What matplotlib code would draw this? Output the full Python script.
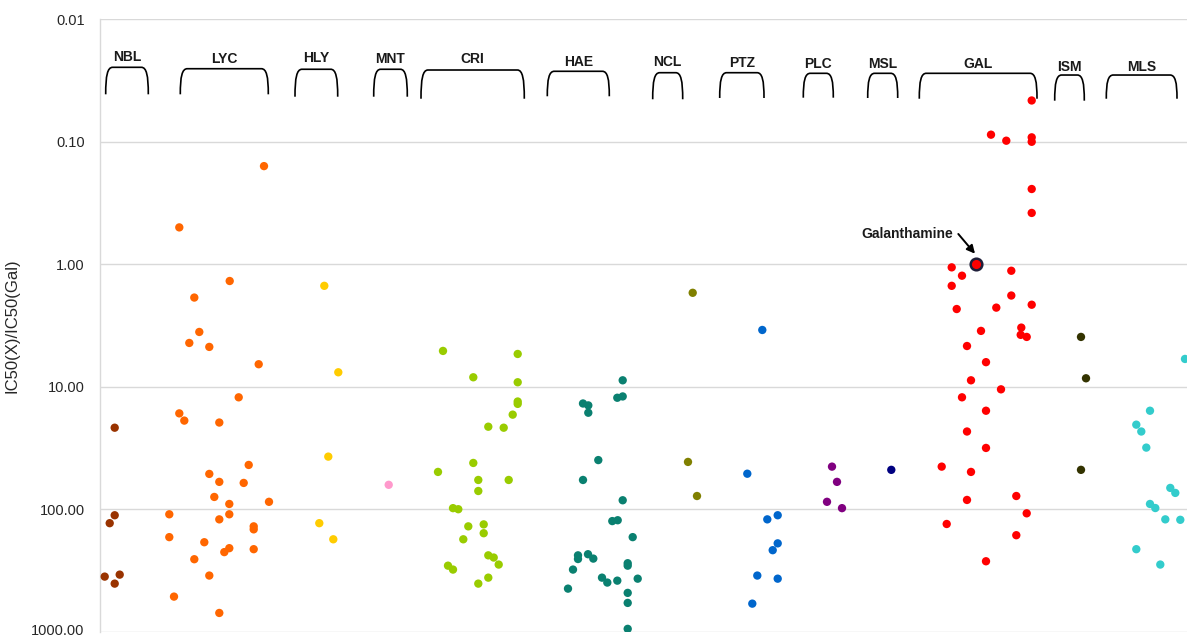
import matplotlib
matplotlib.use("Agg")
import matplotlib.pyplot as plt
from matplotlib.path import Path
from matplotlib.patches import PathPatch
from matplotlib.ticker import FixedLocator, FixedFormatter, NullLocator
from matplotlib.transforms import ScaledTranslation

plt.rcParams['font.family'] = ['Liberation Sans', 'DejaVu Sans']

# ---- data: horizontal position within the strip, and IC50(X)/IC50(Gal) ----
nbl_x = [14.7, 14.7, 9.7, 4.7, 19.7, 14.7]
nbl_y = [21.6, 112, 130, 355, 342, 405]

lyc_x = [164, 79.3, 129.7, 94.3, 99.3, 89.3, 109.3, 158.7, 138.7, 79.3, 84.3,
         119.3, 148.7, 109.3, 119.3, 143.7, 114.3, 129.3, 169, 69.3, 129.3,
         119.3, 153.7, 153.7, 69.3, 104.3, 129.3, 124.3, 153.7, 94.3, 109.3,
         74, 119.3]
lyc_y = [0.158, 0.50, 1.37, 1.87, 3.57, 4.39, 4.73, 6.55, 12.2, 16.5, 18.9,
         19.6, 43.5, 51.5, 59.8, 61, 79.4, 90.6, 87, 110, 110,
         121, 138, 146, 169, 186, 208, 224, 212, 256, 348,
         517, 703]

hly_x = [224.3, 238.3, 228.3, 219.3, 233.3]
hly_y = [1.50, 7.62, 37.2, 130, 176]

mnt_x = [288.7]
mnt_y = [63.2]

cri_x = [343, 417.7, 373.3, 417.7, 417.7, 417.7, 412.7, 388.3, 403.7, 373.3,
         338, 378.3, 408.7, 378.3, 353, 358.3, 368.3, 383.7, 383.7, 363.3,
         388.3, 393.7, 398.7, 348, 353, 388.3, 378.3]
cri_y = [5.1, 5.4, 8.37, 9.19, 13.2, 13.8, 16.9, 21.2, 21.6, 41.9,
         49.6, 57.7, 57.7, 71, 98, 100, 138, 133, 157, 176,
         238, 248, 283, 289, 311, 362, 405]

hae_x = [522.7, 517.3, 522.7, 483, 488.3, 488.3, 498.3, 483, 522.7, 512.3,
         517.7, 532.7, 478, 478, 488, 493.3, 527.7, 527.7, 473, 502,
         537.7, 517.3, 507.3, 468, 527.7, 527.7, 527.7]
hae_y = [8.86, 12.3, 12.0, 13.7, 14.2, 16.3, 39.7, 57.7, 84.5, 125,
         123, 169, 238, 255, 233, 253, 276, 289, 311, 362,
         369, 383, 397, 445, 482, 582, 948]

ncl_x = [592.7, 588, 597]
ncl_y = [1.71, 41.1, 78]

ptz_x = [662.3, 647.3, 667.3, 677.7, 677.7, 672.7, 657.3, 677.7, 652.3]
ptz_y = [3.44, 51.3, 121, 112, 190, 216, 348, 369, 590]

plc_x = [732, 737, 727, 742]
plc_y = [44.9, 59.8, 87, 98]

msl_x = [791.3]
msl_y = [47.7]

gal_x = [931.7, 891, 906.3, 931.7, 931.7, 931.7, 931.7,
         851.7, 862, 851.7, 911.3, 911.3, 856.7, 896.3, 931.7,
         881, 921.3, 920.7, 926.7, 867, 886, 871, 901, 862, 886, 867, 886,
         841.7, 871, 867, 916.3, 926.7, 846.7, 916.3, 886]
gal_y = [0.046, 0.0875, 0.098, 0.092, 0.100, 0.243, 0.381,
         1.06, 1.24, 1.50, 1.13, 1.80, 2.32, 2.26, 2.14,
         3.5, 3.29, 3.77, 3.92, 4.65, 6.3, 8.86, 10.5, 12.2, 15.7, 23.2, 31.6,
         44.9, 49.6, 84, 78, 108, 132, 163, 266]

ism_x = [981, 986, 981]
ism_y = [3.92, 8.53, 47.7]

mls_x = [1085, 1050, 1036.3, 1041.3, 1046.3, 1070.3, 1075.3, 1050, 1055.3,
         1065.3, 1080.3, 1036.3, 1060.3]
mls_y = [5.93, 15.7, 20.4, 23.2, 31.4, 67, 73.6, 90.6, 97.8,
         121, 122, 212, 283]

galanthamine_x = 876
galanthamine_y = 1.00

group_names = ['NBL', 'LYC', 'HLY', 'MNT', 'CRI', 'HAE', 'NCL', 'PTZ',
               'PLC', 'MSL', 'GAL', 'ISM', 'MLS']
group_colors = ['#993300', '#FF6600', '#FFCC00', '#FF99CC', '#99CC00',
                '#0A8070', '#808000', '#0066CC', '#800080', '#000080',
                '#FF0000', '#333300', '#33CCCC']
group_xs = [nbl_x, lyc_x, hly_x, mnt_x, cri_x, hae_x, ncl_x, ptz_x,
            plc_x, msl_x, gal_x, ism_x, mls_x]
group_ys = [nbl_y, lyc_y, hly_y, mnt_y, cri_y, hae_y, ncl_y, ptz_y,
            plc_y, msl_y, gal_y, ism_y, mls_y]

# bracket spans over each group (x range) and heights (axes fraction)
bracket_left = [5.7, 80.3, 195, 273.7, 321, 447.3, 552.7, 619.7, 703.3,
                767.7, 819.3, 954.7, 1006.3]
bracket_right = [48.3, 168.3, 237.7, 307.3, 424.3, 509.3, 582.7, 664, 733.3,
                 797.7, 937, 984.3, 1077]
bracket_top = [0.9216, 0.9193, 0.9184, 0.9184, 0.9172, 0.9151, 0.9128,
               0.9128, 0.9118, 0.9118, 0.9118, 0.9090, 0.9090]
bracket_bottom = [0.8775, 0.8775, 0.8736, 0.8736, 0.8703, 0.8743, 0.8694,
                  0.8715, 0.8720, 0.8715, 0.8703, 0.8671, 0.8703]
label_y = [0.9384, 0.9352, 0.9368, 0.9352, 0.9352, 0.9303, 0.9303, 0.9286,
           0.9270, 0.9270, 0.9270, 0.9221, 0.9221]

yticks = [0.01, 0.1, 1, 10, 100, 1000]
ytick_labels = ['0.01', '0.10', '1.00', '10.00', '100.00', '1000.00']

# ---- figure ----
W, H = 1187, 637
fig = plt.figure(figsize=(W / 100, H / 100), dpi=100)
ax = fig.add_axes([100 / W, (H - 631.7) / H, 1 - 100 / W, (631.7 - 19.3) / H])

ax.set_yscale('log')
ax.set_ylim(1000, 0.01)
ax.set_xlim(0, 1087)

for xs, ys, c in zip(group_xs, group_ys, group_colors):
    ax.scatter(xs, ys, s=36, color=c, edgecolors='none', zorder=3)

# reference compound, highlighted
ax.scatter([galanthamine_x], [galanthamine_y], s=70, color='#FF0000',
           edgecolors='#1F1F3A', linewidths=1.8, zorder=4)
ax.text(853.3, 0.566, 'Galanthamine', ha='right', va='center', fontsize=10,
        fontweight='bold', color='#1A1A1A', zorder=5)
ax.annotate('', xy=(875, 0.82), xytext=(858.3, 0.566),
            arrowprops=dict(arrowstyle='-|>', color='black', lw=1.4,
                            mutation_scale=12, shrinkA=0, shrinkB=0),
            zorder=5)

# group brackets
tr = ax.get_xaxis_transform()
for name, x0, x1, yt, yb, ly in zip(group_names, bracket_left, bracket_right,
                                    bracket_top, bracket_bottom, label_y):
    r = 7
    h = yt - yb
    verts = [(x0, yb), (x0, yb + 0.7 * h), (x0 + 0.25 * r, yt), (x0 + r, yt),
             (x1 - r, yt),
             (x1 - 0.25 * r, yt), (x1, yb + 0.7 * h), (x1, yb)]
    codes = [Path.MOVETO, Path.CURVE4, Path.CURVE4, Path.CURVE4,
             Path.LINETO,
             Path.CURVE4, Path.CURVE4, Path.CURVE4]
    ax.add_patch(PathPatch(Path(verts, codes), transform=tr, fill=False,
                           edgecolor='black', lw=1.2, clip_on=False))
    ax.text((x0 + x1) / 2, ly, name, transform=tr, ha='center', va='center',
            fontsize=10, fontweight='bold', color='#1A1A1A')

# axes styling
ax.yaxis.set_major_locator(FixedLocator(yticks))
ax.yaxis.set_major_formatter(FixedFormatter(ytick_labels))
ax.yaxis.set_minor_locator(NullLocator())
ax.xaxis.set_major_locator(NullLocator())
ax.tick_params(axis='y', length=0, pad=11, labelsize=10.5, labelcolor='#262626')
ax.grid(axis='y', color='#D9D9D9', lw=1.0)
ax.set_axisbelow(True)
for side in ['top', 'right', 'bottom']:
    ax.spines[side].set_visible(False)
ax.spines['left'].set_color('#D9D9D9')
ax.spines['left'].set_linewidth(1.0)

# nudge the lowest tick label up a little so it stays inside the canvas
low = ax.get_yticklabels()[-1]
low.set_transform(low.get_transform() +
                  ScaledTranslation(0, 2.5 / 100, fig.dpi_scale_trans))

ax.set_ylabel('IC50(X)/IC50(Gal)', fontsize=12, color='#262626')
ax.yaxis.set_label_coords(-80 / 1087, 0.5)

fig.savefig('out.png', dpi=100)
